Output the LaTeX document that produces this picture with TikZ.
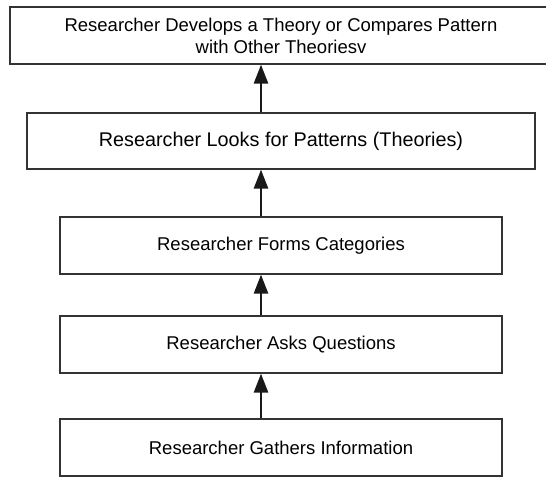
\documentclass[tikz,border=0pt]{standalone}
\usepackage{fontspec}
\setmainfont{Liberation Sans}
\usetikzlibrary{arrows.meta}
\begin{document}
\begin{tikzpicture}[x=1pt,y=-1pt,
  stepbox/.style={draw=black!80, line width=1.2pt, fill=white, inner sep=0pt,
    align=center, font=\fontsize{18.5}{22}\selectfont},
  flow/.style={draw=black!90, line width=2.6pt, -{Triangle[length=19pt,width=14pt]}}]
\clip (0,0) rectangle (546,477);
\fill[white] (0,0) rectangle (546,477);
\node[stepbox, minimum width=542pt, minimum height=57pt] (b1) at (281,35.5)
  {Researcher Develops a Theory or Compares Pattern\\with Other Theoriesv};
\node[stepbox, minimum width=508pt, minimum height=56pt, font=\fontsize{19.8}{23}\selectfont] (b2) at (281,141)
  {Researcher Looks for Patterns (Theories)};
\node[stepbox, minimum width=442pt, minimum height=57pt] (b3) at (281,245.5)
  {Researcher Forms Categories};
\node[stepbox, minimum width=442pt, minimum height=57pt] (b4) at (281,344.5)
  {Researcher Asks Questions};
\node[stepbox, minimum width=442pt, minimum height=57pt] (b5) at (281,447.5)
  {Researcher Gathers Information};
\coordinate (ax) at (261,0);
\draw[flow] (b2.north -| ax) -- (b1.south -| ax);
\draw[flow] (b3.north -| ax) -- (b2.south -| ax);
\draw[flow] (b4.north -| ax) -- (b3.south -| ax);
\draw[flow] (b5.north -| ax) -- (b4.south -| ax);
\end{tikzpicture}
\end{document}
